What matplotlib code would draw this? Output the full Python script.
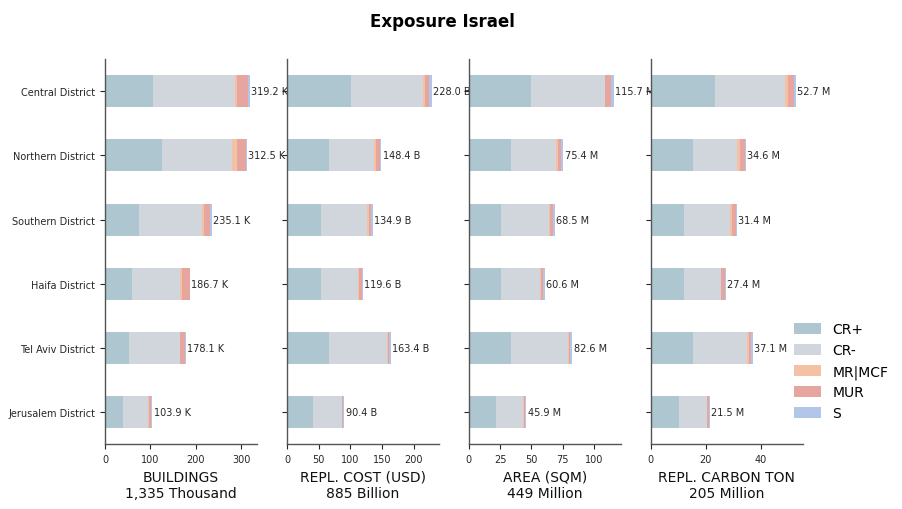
import matplotlib
matplotlib.use("Agg")
import matplotlib.pyplot as plt
import numpy as np

# districts, bottom to top as drawn
districts = ["Jerusalem District", "Tel Aviv District", "Haifa District",
             "Southern District", "Northern District", "Central District"]
classes = ["CR+", "CR-", "MR|MCF", "MUR", "S"]
colors = ["#adc6cf", "#d1d5dc", "#f4c1a4", "#e7a59f", "#b2c6ea"]

# values per class, same order as districts
buildings = {
    "CR+":    [39, 53, 59, 75, 126, 105],
    "CR-":    [56, 112, 107, 138, 155, 181],
    "MR|MCF": [1.5, 1, 4.5, 6, 11, 6],
    "MUR":    [5, 9.5, 16, 13.5, 18.5, 23.5],
    "S":      [2.4, 2.6, 0.2, 2.6, 2, 3.7],
}
repl_cost = {
    "CR+":    [41.6, 66, 53, 53, 66, 100.5],
    "CR-":    [44.7, 92, 58.5, 73, 71, 114],
    "MR|MCF": [0.6, 1, 1.5, 2.5, 3, 2.2],
    "MUR":    [1.7, 2.5, 5, 4, 6, 7],
    "S":      [1.8, 1.9, 1.6, 2.4, 2.4, 4.3],
}
area = {
    "CR+":    [21.4, 33.4, 26, 26, 33.4, 50],
    "CR-":    [22.1, 45.8, 30.6, 38, 36, 58.5],
    "MR|MCF": [0.3, 0.5, 0.8, 1, 1.6, 0.6],
    "MUR":    [0.8, 1.4, 2, 2, 3, 4.3],
    "S":      [1.3, 1.5, 1.2, 1.5, 1.4, 2.3],
}
carbon = {
    "CR+":    [10.1, 15.2, 12.2, 12.2, 15.5, 23.5],
    "CR-":    [10.3, 20, 13.3, 16.8, 16, 25.5],
    "MR|MCF": [0.2, 0.7, 0.2, 0.6, 1, 1],
    "MUR":    [0.6, 0.6, 1.5, 1.3, 1.8, 2],
    "S":      [0.3, 0.6, 0.2, 0.5, 0.3, 0.7],
}
totals_lbl = [
    ["103.9 K", "178.1 K", "186.7 K", "235.1 K", "312.5 K", "319.2 K"],
    ["90.4 B", "163.4 B", "119.6 B", "134.9 B", "148.4 B", "228.0 B"],
    ["45.9 M", "82.6 M", "60.6 M", "68.5 M", "75.4 M", "115.7 M"],
    ["21.5 M", "37.1 M", "27.4 M", "31.4 M", "34.6 M", "52.7 M"],
]
xlabels = ["BUILDINGS\n1,335 Thousand", "REPL. COST (USD)\n885 Billion",
           "AREA (SQM)\n449 Million", "REPL. CARBON TON\n205 Million"]
xticks = [[0, 100, 200, 300], [0, 50, 100, 150, 200],
          [0, 25, 50, 75, 100], [0, 20, 40]]

fig, axes = plt.subplots(1, 4, figsize=(9.03, 5.1), dpi=100)
plt.subplots_adjust(left=0.1163, right=0.889, top=0.882, bottom=0.127, wspace=0.197)

y = np.arange(len(districts))
for i, (ax, data) in enumerate(zip(axes, [buildings, repl_cost, area, carbon])):
    left = np.zeros(len(districts))
    for cls, col in zip(classes, colors):
        vals = np.array(data[cls])
        ax.barh(y, vals, left=left, height=0.5, color=col, label=cls)
        left += vals
    for yy, tot, lbl in zip(y, left, totals_lbl[i]):
        ax.annotate(lbl, (tot, yy), xytext=(1, 0), textcoords="offset points",
                    va="center", ha="left", fontsize=7, color="#262626")
    ax.set_xlim(0, left.max() * 1.05)
    ax.set_ylim(-0.5, len(districts) - 0.5)
    ax.set_yticks(y)
    if i == 0:
        ax.set_yticklabels(districts)
    else:
        ax.set_yticklabels([])
    ax.set_xticks(xticks[i])
    ax.tick_params(labelsize=7, colors="#262626", length=3.5, width=0.8)
    ax.set_xlabel(xlabels[i], fontsize=10, color="#111111")
    for s in ["top", "right"]:
        ax.spines[s].set_visible(False)
    for s in ["left", "bottom"]:
        ax.spines[s].set_color("#555555")
        ax.spines[s].set_linewidth(1.0)

handles, labels = axes[0].get_legend_handles_labels()
fig.legend(handles, labels, loc="center left", bbox_to_anchor=(0.865, 0.27),
           frameon=False, fontsize=10, handlelength=2.0, handleheight=0.8,
           labelspacing=0.5)

fig.suptitle("Exposure Israel", x=0.49, fontsize=12, fontweight="bold", y=0.975)
fig.savefig("out.png", dpi=100)
